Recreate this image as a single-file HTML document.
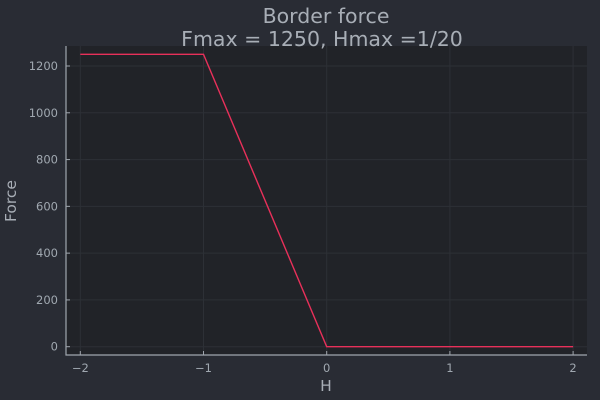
<!DOCTYPE html>
<html><head><meta charset="utf-8"><style>
body{margin:0;background:#292c34;}
svg{display:block;font-family:"DejaVu Sans","Liberation Sans",sans-serif;}
</style></head><body>
<svg width="600" height="400">
<rect x="0" y="0" width="600" height="400" fill="#292c34"/>
<rect x="66" y="46" width="521" height="309" fill="#212328"/>
<g id="grid"></g>
<g id="axes"></g>
<path id="line" fill="none" stroke="#e8305a" stroke-width="1.4"/>
<text x="326" y="23" text-anchor="middle" font-size="20.5" fill="#a8aeb6">Border force</text>
<text x="322" y="46" text-anchor="middle" font-size="20.5" fill="#a8aeb6">Fmax = 1250, Hmax =1/20</text>
<text x="326" y="391" text-anchor="middle" font-size="15.5" fill="#a8aeb6">H</text>
<text x="16" y="201" text-anchor="middle" font-size="15.5" fill="#a8aeb6" transform="rotate(-90 16 201)">Force</text>
</svg>
<script>
const xs=[-2,-1,0,2];
const ys=[1250,1250,0,0];
const xTicks=[-2,-1,0,1,2];
const yTicks=[0,200,400,600,800,1000,1200];
const xTickLabels=["\u22122","\u22121","0","1","2"];
const X=v=>326.7+v*123.2;
const Y=v=>346.7-v*280.7/1200;
const NS="http://www.w3.org/2000/svg";
const grid=document.getElementById('grid'),axes=document.getElementById('axes');
function mk(tag,attrs,parent,txt){const e=document.createElementNS(NS,tag);for(const k in attrs)e.setAttribute(k,attrs[k]);if(txt!==undefined)e.textContent=txt;parent.appendChild(e);return e;}
xTicks.forEach((t,i)=>{
 const g=mk('line',{x1:X(t),x2:X(t),y1:46,y2:355,stroke:'#2d3036','stroke-width':1},grid);
 
 
 const tk=mk('line',{x1:X(t),x2:X(t),y1:355,y2:351,stroke:'#a0a6ae','stroke-width':1},axes);
 
 
 const l=mk('text',{x:X(t),y:372,'text-anchor':'middle','font-size':11.5,fill:'#a0a8b0'},axes,xTickLabels[i]);
 
 
});
yTicks.forEach(t=>{
 const g=mk('line',{x1:66,x2:587,y1:Y(t),y2:Y(t),stroke:'#2d3036','stroke-width':1},grid);
 
 
 const tk=mk('line',{x1:66,x2:70,y1:Y(t),y2:Y(t),stroke:'#a0a6ae','stroke-width':1},axes);
 
 
 const l=mk('text',{x:58,y:Y(t)+4,'text-anchor':'end','font-size':11.5,fill:'#a0a8b0'},axes,String(t));
 
 
});
const ax=mk('path',{d:'M66 46V355H587',fill:'none',stroke:'#a0a6ae','stroke-width':1.2},axes);


document.getElementById('line').setAttribute('d',xs.map((x,i)=>(i?'L':'M')+X(x)+' '+Y(ys[i])).join(''));
</script>
</body></html>
